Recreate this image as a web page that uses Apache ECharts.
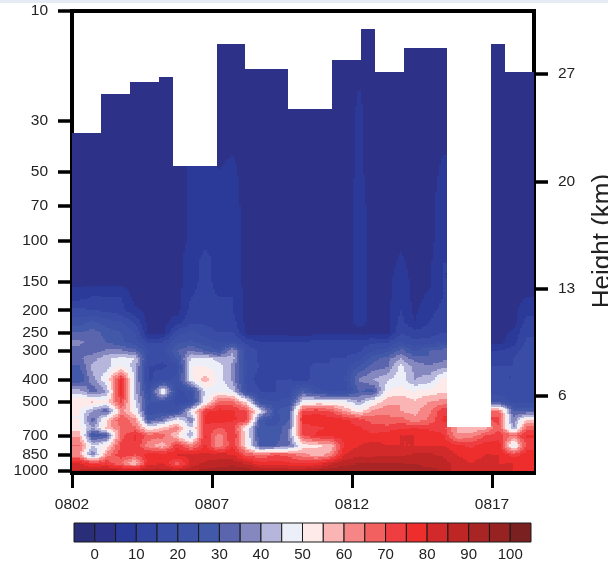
<!DOCTYPE html>
<html><head><meta charset="utf-8">
<style>html,body{margin:0;padding:0;background:#fff}#c{width:608px;height:563px}</style>
<script src="https://cdn.jsdelivr.net/npm/echarts@6/dist/echarts.min.js"></script>
</head><body><div id="c"></div>
<script>
const n = null;
// Relative humidity (%). Nodes every half day, from 0802 + 0.25 day.
const firstNodeDay = 0.25, nodeStepDay = 0.5;
const p1000=[86,88,88,88,88,88,88,88,90,92,92,94,94,92,90,88,90,92,94,94,94,93,92,92,92,92,90,82,82,82,82,80,80];
const p925=[80,72,74,64,54,78,80,66,82,86,88,88,84,76,78,76,74,76,84,88,90,90,90,90,90,88,88,82,80,82,80,80,78];
const p850=[60,35,62,74,70,78,78,80,82,82,82,80,68,66,70,68,62,58,62,80,84,84,84,84,86,86,84,80,78,80,80,72,78];
const p775=[66,45,52,72,74,62,56,74,62,76,60,74,52,28,30,34,52,54,56,76,80,82,80,80,80,80,80,76,74,78,78,44,72];
const p700=[58,25,30,68,76,68,68,54,40,76,62,76,50,25,26,36,70,76,78,78,78,76,78,80,80,78,76,60,62,70,72,66,76];
const p650=[52,40,56,66,66,50,56,64,45,74,70,72,50,25,26,35,72,74,76,76,76,72,72,74,75,74,72,60,55,58,70,38,68];
const p600=[50,32,56,70,62,28,35,50,35,76,78,76,72,26,22,30,78,78,78,76,72,68,66,68,62,66,76,n,n,n,72,36,55];
const p550=[50,40,30,62,50,22,22,22,48,74,78,76,70,47,24,30,72,74,70,60,52,62,64,60,58,64,74,n,n,n,66,30,30];
const p500=[54,56,52,72,45,25,25,18,20,48,66,66,52,22,20,22,48,50,50,48,40,50,58,60,56,60,62,n,n,n,25,18,18];
const p450=[42,32,40,78,42,20,52,18,22,46,50,45,20,15,15,18,30,22,18,18,30,28,50,52,50,52,54,n,n,n,18,15,18];
const p400=[25,38,50,76,42,14,18,22,48,58,48,38,18,12,15,15,14,16,18,20,36,40,44,48,40,42,52,n,n,n,15,15,18];
const p350=[30,42,42,50,42,15,14,18,50,50,48,38,20,14,15,14,14,16,15,18,25,32,34,47,38,36,38,n,n,n,15,15,20];
const p325=[34,38,44,48,45,18,16,25,46,48,42,42,18,14,15,14,14,14,15,15,18,28,33,40,33,30,34,n,n,n,14,15,20];
const p300=[34,32,36,36,32,20,18,30,36,30,25,40,18,14,14,14,14,14,14,14,14,20,22,32,24,30,33,n,n,n,10,12,18];
const p275=[36,33,30,26,22,14,15,24,26,22,20,20,14,10,10,10,10,12,12,12,12,14,14,20,16,18,20,n,n,n,3,8,16];
const p250=[30,32,28,25,20,3,3,18,22,18,15,15,3,3,3,3,3,3,3,3,3,3,3,14,12,12,15,n,n,n,3,6,14];
const p225=[22,26,22,20,14,3,3,8,14,14,12,12,3,3,3,3,3,3,3,3,7,3,3,12,5,10,14,n,n,n,3,3,12];
const p200=[16,15,14,12,6,3,3,3,12,12,12,10,3,3,3,3,3,3,3,3,7,3,3,10,4,8,12,n,n,n,3,3,8];
const p175=[8,10,10,10,3,3,3,3,10,12,10,10,3,3,3,3,3,3,3,3,7,3,3,9,3,6,10,n,n,n,3,3,5];
const p150=[3,3,3,3,3,3,3,3,8,12,8,8,3,3,3,3,3,3,3,3,7,3,3,8,3,4,10,n,n,n,3,3,3];
const p125=[3,3,3,3,3,3,3,3,8,12,8,8,3,3,3,3,3,3,3,3,7,3,3,6,3,4,10,n,n,n,3,3,3];
const p100=[3,3,3,3,3,3,3,3,6,9,8,8,3,3,3,3,3,3,3,3,7,3,3,4,3,3,9,n,n,n,3,3,3];
const p70=[3,3,3,3,3,3,3,3,6,8,6,7,3,3,3,3,3,3,3,3,7,3,3,3,3,3,8,n,n,n,3,3,3];
const p50=[3,3,3,3,3,3,3,3,6,7,5,6,3,3,3,3,3,3,3,3,6,3,3,3,3,3,6,n,n,n,3,3,3];
const p30=[3,3,3,3,3,3,3,3,3,3,3,3,3,3,3,3,3,3,3,3,6,3,3,3,3,3,3,n,n,n,3,3,3];
const p10=[3,3,3,3,3,3,3,3,3,3,3,3,3,3,3,3,3,3,3,3,3,3,3,3,3,3,3,n,n,n,3,3,3];
const levels=[1000,925,850,775,700,650,600,550,500,450,400,350,325,300,275,250,225,200,175,150,125,100,70,50,30,10];
const rows=[p1000,p925,p850,p775,p700,p650,p600,p550,p500,p450,p400,p350,p325,p300,p275,p250,p225,p200,p175,p150,p125,p100,p70,p50,p30,p10];
// Highest pressure level with data in each time span (the white staircase at the top).
const spanEdgesDay=[0,1.036,2.07,3.11,3.6,5.18,6.18,7.71,9.29,10.32,10.82,11.86,13.39,14.96,15.46,16.5];
const spanTopHpa=[33.9,23,20.4,19.4,47.2,13.9,17.9,26.7,16.3,12,18.4,14.5,644,13.9,18.4];
const pressureTicks=[10,30,50,70,100,150,200,250,300,400,500,700,850,1000];
const heightTicks=[6,13,20,27];
const dateLabels=['0802','0807','0812','0817'];
const barLabels=[0,10,20,30,40,50,60,70,80,90,100];
const bandStart=-5, bandStep=5;
const bandColors=['#2a2d78','#2e3188','#2b3a99','#32449f','#3a4da6','#3d52a6','#4258a8','#5b65ad','#8588be','#b6b5dc','#eceef8','#ffeaea','#fbb4b4','#f68686','#f26060','#ef3e42','#ee2d2d','#d22a2a','#be2626','#a92424','#972222','#7a2020'];

function bandOf(v){return Math.max(0,Math.min(bandColors.length-1,Math.floor((v-bandStart)/bandStep)));}
const logLevels=levels.map(Math.log10);
function sample(d,lp){
  let fi=(d-firstNodeDay)/nodeStepDay; fi=Math.max(0,Math.min(rows[0].length-1.001,fi));
  const i=Math.floor(fi),u=fi-i;
  let j=0; while(j<levels.length-2&&lp<logLevels[j+1])j++;
  const w=Math.max(0,Math.min(1,(logLevels[j]-lp)/(logLevels[j]-logLevels[j+1])));
  const pts=[[rows[j][i],(1-u)*(1-w)],[rows[j][i+1],u*(1-w)],[rows[j+1][i],(1-u)*w],[rows[j+1][i+1],u*w]];
  let s=0,t=0; pts.forEach(q=>{if(q[0]!==null){s+=q[0]*q[1];t+=q[1];}});
  if(t>0)return s/t;
  for(let k=1;k<6;k++){for(const a of [i-k,i+1+k]){if(rows[j][a]!=null)return rows[j][a];}}
  return 3;
}
// Contour bands: the value grid is shaded as runs of constant band inside each time strip.
const cells=[];
const dxDay=1/14, dLog=1.5/230;
for(let s=0;s<spanTopHpa.length;s++){
  const a=spanEdgesDay[s],b=spanEdgesDay[s+1],top=Math.log10(spanTopHpa[s]);
  const nx=Math.max(1,Math.round((b-a)/dxDay));
  for(let k=0;k<nx;k++){
    const d0=a+(b-a)*k/nx,d1=a+(b-a)*(k+1)/nx,dm=(d0+d1)/2;
    let lp=top,start=top,cur=null;
    while(lp<3){
      const next=Math.min(3,lp+dLog);
      const bd=bandOf(sample(dm,(lp+next)/2));
      if(cur===null)cur=bd;
      if(bd!==cur){cells.push([d0,d1,Math.pow(10,start),Math.pow(10,lp),cur]);start=lp;cur=bd;}
      lp=next;
    }
    cells.push([d0,d1,Math.pow(10,start),1000,cur]);
  }
}
const barCells=bandColors.map((c,i)=>[bandStart+i*bandStep,bandStart+(i+1)*bandStep,i]);
const font='"Liberation Sans",Arial,sans-serif', ink='#222';
const spine={show:true,onZero:false,lineStyle:{color:'#000',width:4,cap:'square'}};
const chart=echarts.init(document.getElementById('c'),null,{renderer:'canvas'});
chart.setOption({
  animation:false,backgroundColor:'#fff',
  graphic:[{type:'rect',shape:{x:0,y:0,width:608,height:3},style:{fill:'#e6ebf5'},silent:true,z:-1}],
  grid:[{left:72,top:11,width:462,height:460,outerBoundsMode:'none'},{left:74,top:523,width:457,height:19,outerBoundsMode:'none'}],
  xAxis:[
    {type:'value',gridIndex:0,min:0,max:16.5,interval:5,position:'bottom',offset:2,splitLine:{show:false},axisLine:spine,
     axisTick:{show:true,length:15,lineStyle:{color:'#000',width:3}},
     axisLabel:{show:true,fontFamily:font,fontSize:15.5,color:ink,margin:24,showMaxLabel:false,formatter:v=>dateLabels[Math.round(v/5)]||''}},
    {type:'value',gridIndex:0,min:0,max:16.5,position:'top',splitLine:{show:false},axisLine:spine,axisTick:{show:false},axisLabel:{show:false}},
    {type:'value',gridIndex:1,min:-5,max:105,splitLine:{show:false},axisLine:{show:false},axisTick:{show:false},
     axisLabel:{show:true,customValues:barLabels,fontFamily:font,fontSize:15,color:ink,margin:5,hideOverlap:false,showMinLabel:true,showMaxLabel:true}}
  ],
  yAxis:[
    {type:'log',logBase:10,gridIndex:0,min:10,max:1000,inverse:true,position:'left',splitLine:{show:false},minorTick:{show:false},axisLine:spine,
     axisTick:{show:true,length:14,customValues:pressureTicks,lineStyle:{color:'#000',width:3.5}},
     axisLabel:{show:true,customValues:pressureTicks,fontFamily:font,fontSize:15.5,color:ink,margin:24,hideOverlap:false,showMinLabel:true,showMaxLabel:true,formatter:v=>String(Math.round(v))}},
    {type:'value',gridIndex:0,min:1.11,max:31.11,position:'right',splitLine:{show:false},axisLine:spine,
     axisTick:{show:true,length:14,customValues:heightTicks,lineStyle:{color:'#000',width:3.5}},
     axisLabel:{show:true,customValues:heightTicks,fontFamily:font,fontSize:15.5,color:ink,margin:24},
     name:'Height (km)',nameLocation:'middle',nameRotate:90,nameGap:56,nameTextStyle:{fontFamily:font,fontSize:26,color:ink}},
    {type:'value',gridIndex:1,min:0,max:1,show:false}
  ],
  series:[
    {type:'custom',name:'RH',xAxisIndex:0,yAxisIndex:0,clip:true,silent:true,z:1,data:cells,
     encode:{x:[0,1],y:[2,3]},
     renderItem:(p,api)=>{
       const a=api.coord([api.value(0),api.value(2)]),b=api.coord([api.value(1),api.value(3)]);
       const c=bandColors[api.value(4)];
       const x0=Math.round(a[0]),x1=Math.round(b[0]),y0=Math.round(a[1]),y1=Math.round(b[1]);
       return {type:'rect',shape:{x:x0,y:y0,width:x1-x0,height:y1-y0},style:{fill:c}};
     }},
    {type:'custom',name:'bar',xAxisIndex:2,yAxisIndex:2,silent:true,data:barCells,
     encode:{x:[0,1]},
     renderItem:(p,api)=>{
       const a=api.coord([api.value(0),1]),b=api.coord([api.value(1),0]);
       return {type:'rect',shape:{x:a[0],y:a[1],width:b[0]-a[0],height:b[1]-a[1]},style:{fill:bandColors[api.value(2)],stroke:'#1a1a1a',lineWidth:1}};
     }}
  ]
});
</script></body></html>
